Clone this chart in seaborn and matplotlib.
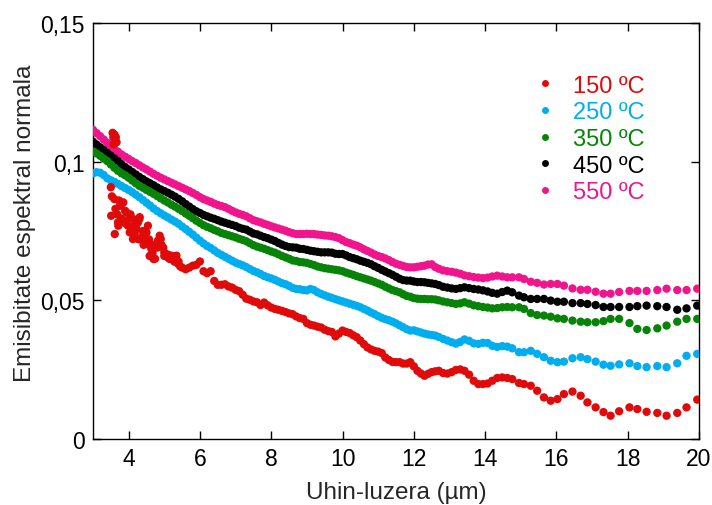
import numpy as np
import pandas as pd
import matplotlib
matplotlib.use("Agg")
import matplotlib.pyplot as plt
from matplotlib.lines import Line2D
import seaborn as sns

# Wavelength grid (µm) shared by all spectra
wavelength = [
    3.0, 3.1, 3.2, 3.3, 3.4, 3.5, 3.6, 3.7, 3.8, 3.9,
    4.0, 4.1, 4.2, 4.3, 4.4, 4.5, 4.6, 4.7, 4.8, 4.9,
    5.0, 5.1, 5.2, 5.3, 5.4, 5.5, 5.6, 5.7, 5.8, 5.9,
    6.0, 6.1, 6.2, 6.3, 6.4, 6.5, 6.6, 6.7, 6.8, 6.9,
    7.0, 7.1, 7.2, 7.3, 7.4, 7.5, 7.6, 7.7, 7.8, 7.9,
    8.0, 8.1, 8.2, 8.3, 8.4, 8.5, 8.6, 8.7, 8.8, 8.9,
    9.0, 9.1, 9.2, 9.3, 9.4, 9.5, 9.6, 9.7, 9.8, 9.9,
    10.0, 10.1, 10.2, 10.3, 10.4, 10.5, 10.6, 10.7, 10.8, 10.9,
    11.0, 11.1, 11.2, 11.3, 11.4, 11.5, 11.6, 11.7, 11.8, 11.9,
    12.0,
    12.1, 12.2, 12.3, 12.4, 12.5, 12.6, 12.7, 12.82, 12.94, 13.06,
    13.18, 13.3, 13.42, 13.55, 13.68, 13.81, 13.94, 14.07, 14.2, 14.34,
    14.48, 14.62,
    14.76, 14.95, 15.09, 15.28, 15.46, 15.65, 15.84, 16.03, 16.21, 16.45,
    16.68, 16.87, 17.10, 17.32, 17.52, 17.76, 18.05, 18.27, 18.53, 18.83,
    19.09, 19.39, 19.65, 19.95,
]

emis_550 = [
    .1115, .1103, .1092, .1080, .1068, .1057, .1046, .1036, .1026, .1018,
    .1010, .1002, .0995, .0987, .0979, .0972, .0964, .0956, .0949, .0942,
    .0936, .0930, .0924, .0918, .0912, .0906, .0900, .0894, .0887, .0880,
    .0872, .0865, .0860, .0855, .0849, .0844, .0840, .0836, .0830, .0823,
    .0817, .0812, .0808, .0803, .0796, .0789, .0785, .0781, .0776, .0772,
    .0767, .0763, .0759, .0755, .0751, .0746, .0742, .0739, .0739, .0739,
    .0740, .0739, .0739, .0737, .0736, .0734, .0733, .0731, .0728, .0724,
    .0717, .0710, .0706, .0701, .0697, .0691, .0684, .0678, .0672, .0665,
    .0660, .0656, .0651, .0645, .0638, .0632, .0628, .0624, .0620, .0619,
    .0619,
    .0621, .0623, .0625, .0629, .0630, .0620, .0614, .0608, .0605, .0603,
    .0600, .0596, .0590, .0587, .0584, .0582, .0580, .0582, .0586, .0589,
    .0586, .0583,
    .0583, .0583, .0577, .0567, .0563, .0557, .0559, .0559, .0553, .0543,
    .0538, .0538, .0531, .0524, .0524, .0530, .0534, .0534, .0534, .0537,
    .0542, .0537, .0537, .0542,
]

emis_450 = [
    .1072, .1062, .1052, .1042, .1032, .1022, .1012, .1002, .0991, .0981,
    .0972, .0963, .0954, .0945, .0937, .0929, .0922, .0915, .0907, .0900,
    .0894, .0888, .0881, .0874, .0866, .0857, .0847, .0838, .0829, .0821,
    .0815, .0808, .0803, .0798, .0794, .0789, .0784, .0780, .0776, .0772,
    .0768, .0762, .0758, .0755, .0748, .0741, .0738, .0733, .0728, .0724,
    .0719, .0714, .0707, .0701, .0696, .0692, .0691, .0690, .0686, .0685,
    .0682, .0679, .0677, .0675, .0673, .0673, .0673, .0672, .0668, .0667,
    .0667, .0662, .0656, .0652, .0648, .0643, .0639, .0635, .0630, .0623,
    .0617, .0610, .0604, .0598, .0592, .0585, .0578, .0573, .0571, .0571,
    .0568,
    .0566, .0566, .0565, .0563, .0561, .0559, .0555, .0549, .0546, .0543,
    .0541, .0544, .0547, .0544, .0541, .0539, .0536, .0532, .0527, .0524,
    .0530, .0535,
    .0529, .0517, .0511, .0505, .0505, .0505, .0499, .0495, .0495, .0490,
    .0490, .0487, .0483, .0476, .0476, .0476, .0476, .0479, .0481, .0479,
    .0476, .0466, .0471, .0481,
]

emis_350 = [
    .1037, .1030, .1021, .1011, .1002, .0990, .0978, .0967, .0958, .0951,
    .0942, .0932, .0922, .0913, .0906, .0898, .0891, .0884, .0876, .0868,
    .0860, .0853, .0845, .0838, .0830, .0822, .0813, .0805, .0796, .0787,
    .0779, .0771, .0765, .0760, .0754, .0749, .0743, .0739, .0735, .0731,
    .0727, .0722, .0718, .0713, .0706, .0699, .0694, .0690, .0686, .0681,
    .0676, .0672, .0666, .0660, .0655, .0650, .0644, .0642, .0638, .0637,
    .0635, .0631, .0627, .0622, .0619, .0616, .0614, .0612, .0610, .0608,
    .0605, .0600, .0596, .0592, .0587, .0583, .0579, .0575, .0571, .0566,
    .0561, .0556, .0549, .0543, .0537, .0533, .0529, .0522, .0516, .0513,
    .0508,
    .0506, .0505, .0505, .0504, .0504, .0503, .0500, .0496, .0493, .0490,
    .0487, .0489, .0493, .0488, .0482, .0479, .0476, .0474, .0471, .0472,
    .0475, .0476,
    .0475, .0475, .0469, .0454, .0447, .0445, .0441, .0435, .0433, .0427,
    .0423, .0421, .0421, .0425, .0433, .0433, .0418, .0397, .0393, .0399,
    .0409, .0423, .0433, .0433,
]

emis_250 = [
    .0958, .0962, .0960, .0952, .0940, .0933, .0927, .0920, .0912, .0905,
    .0898, .0890, .0881, .0872, .0862, .0852, .0842, .0831, .0822, .0814,
    .0806, .0799, .0791, .0784, .0776, .0766, .0757, .0747, .0737, .0726,
    .0715, .0705, .0696, .0689, .0680, .0671, .0664, .0657, .0650, .0643,
    .0636, .0631, .0626, .0620, .0613, .0606, .0601, .0595, .0588, .0583,
    .0579, .0574, .0568, .0562, .0558, .0552, .0545, .0541, .0540, .0537,
    .0536, .0541, .0537, .0529, .0523, .0518, .0513, .0509, .0504, .0500,
    .0496, .0492, .0488, .0484, .0480, .0475, .0469, .0463, .0456, .0450,
    .0443, .0437, .0432, .0428, .0423, .0417, .0410, .0403, .0396, .0391,
    .0392,
    .0388, .0384, .0380, .0377, .0375, .0373, .0368, .0361, .0355, .0349,
    .0344, .0350, .0359, .0354, .0345, .0343, .0347, .0346, .0336, .0332,
    .0335, .0333,
    .0327, .0313, .0313, .0318, .0307, .0295, .0282, .0277, .0279, .0291,
    .0295, .0288, .0279, .0268, .0264, .0269, .0273, .0263, .0259, .0263,
    .0259, .0273, .0300, .0307,
]

# 150 ºC: no signal recorded below 3.5 µm
emis_150 = [
    np.nan, np.nan, np.nan, np.nan, np.nan, .0908, .0865, .0781, .0847, .0823,
    .0793, .0757, .0769, .0793, .0733, .0745, .0697, .0649, .0690, .0721,
    .0673, .0655, .0661, .0640, .0630, .0618, .0612, .0618, .0625, .0628,
    .0640, .0605, .0598, .0605, .0570, .0556, .0556, .0558, .0550, .0546,
    .0538, .0533, .0520, .0506, .0502, .0496, .0493, .0483, .0492, .0482,
    .0474, .0469, .0466, .0462, .0458, .0453, .0450, .0442, .0436, .0433,
    .0418, .0412, .0409, .0405, .0402, .0394, .0389, .0386, .0370, .0380,
    .0391, .0386, .0382, .0374, .0367, .0355, .0342, .0330, .0323, .0318,
    .0315, .0310, .0294, .0285, .0278, .0277, .0277, .0272, .0272, .0277,
    .0262,
    .0246, .0236, .0228, .0235, .0241, .0244, .0246, .0238, .0236, .0241,
    .0249, .0251, .0246, .0232, .0210, .0198, .0198, .0200, .0210, .0220,
    .0222, .0220,
    .0216, .0202, .0198, .0192, .0174, .0150, .0138, .0144, .0162, .0171,
    .0156, .0132, .0114, .0097, .0084, .0100, .0114, .0108, .0098, .0094,
    .0084, .0094, .0114, .0142,
]

# Extra noisy 150 ºC readings in the short-wavelength region
red_burst_wl = [
    3.55, 3.57, 3.64, 3.66, 3.58, 3.60, 3.62,
    3.51, 3.61, 3.63, 3.76, 3.71, 3.85, 3.94, 4.03, 4.13, 4.12,
    4.22, 4.31, 4.36, 4.45, 4.54, 4.59, 4.64, 4.78, 4.87, 4.97,
    5.05, 5.15, 5.34, 5.45,
    3.53, 3.68, 3.73, 3.80, 3.88, 3.97, 4.05, 4.08, 4.17, 4.26,
    4.28, 4.40, 4.42, 4.49, 4.57, 4.67, 4.70, 4.74, 4.82, 4.92,
    5.00, 5.10, 5.22, 5.28, 5.40,
]
red_burst_val = [
    .1104, .1088, .1088, .1070, .1062, .1098, .1078,
    .0805, .0739, .0830, .0841, .0769, .0853, .0817, .0745, .0793, .0721,
    .0757, .0800, .0721, .0740, .0769, .0660, .0685, .0697, .0733, .0690,
    .0665, .0649, .0661, .0622,
    .0875, .0810, .0860, .0795, .0780, .0770, .0810, .0765, .0740, .0780,
    .0720, .0750, .0700, .0710, .0720, .0670, .0700, .0650, .0715, .0700,
    .0660, .0665, .0655, .0640, .0640,
]

temperatures = ["150 ºC", "250 ºC", "350 ºC", "450 ºC", "550 ºC"]
colors = ["#e10a0a", "#00aeef", "#078407", "#000000", "#f0158c"]
palette = dict(zip(temperatures, colors))

frames = []
series = {"550 ºC": emis_550, "450 ºC": emis_450, "350 ºC": emis_350,
          "250 ºC": emis_250, "150 ºC": emis_150}
for name, vals in series.items():
    frames.append(pd.DataFrame({"wl": wavelength, "emis": vals, "T": name}))
frames.append(pd.DataFrame({"wl": red_burst_wl, "emis": red_burst_val, "T": "150 ºC"}))
df = pd.concat(frames, ignore_index=True).dropna()

sns.set_theme(style="ticks")
plt.rcParams["font.family"] = ["Liberation Sans", "DejaVu Sans"]

fig = plt.figure(figsize=(7.12, 5.06), dpi=100)
ax = fig.add_axes([93 / 712, 1 - 440 / 506, 606 / 712, 416 / 506])

sns.scatterplot(data=df, x="wl", y="emis", hue="T", palette=palette,
                s=36, linewidth=0, legend=False, ax=ax, zorder=3)

ax.set_xlim(3, 20)
ax.set_ylim(0, 0.15)
ax.set_xticks([4, 6, 8, 10, 12, 14, 16, 18, 20])
ax.set_xticklabels(["4", "6", "8", "10", "12", "14", "16", "18", "20"])
ax.set_yticks([0, 0.05, 0.1, 0.15])
ax.set_yticklabels(["0", "0,05", "0,1", "0,15"])

for side in ["left", "right", "top", "bottom"]:
    ax.spines[side].set_visible(True)
    ax.spines[side].set_linewidth(1.0)
    ax.spines[side].set_color("black")

ax.tick_params(axis="both", which="major", direction="in", length=5.5, width=1.0,
               top=True, right=True, labelsize=16.5, colors="black", pad=6)

ax.set_xlabel("Uhin-luzera (µm)", fontsize=17.5, labelpad=8)
ax.set_ylabel("Emisibitate espektral normala", fontsize=17.5, labelpad=3)
ax.yaxis.label.set_y(0.52)

handles = [Line2D([], [], linestyle="none", marker="o", markersize=5,
                  markerfacecolor=palette[t], markeredgewidth=0) for t in temperatures]
ax.legend(handles, temperatures, loc="upper left", bbox_to_anchor=(0.726, 0.876),
          frameon=False, fontsize=17, handlelength=1.0, handletextpad=0.7,
          labelspacing=0.2, borderpad=0, borderaxespad=0,
          labelcolor=colors)

fig.savefig("out.png", dpi=100)
